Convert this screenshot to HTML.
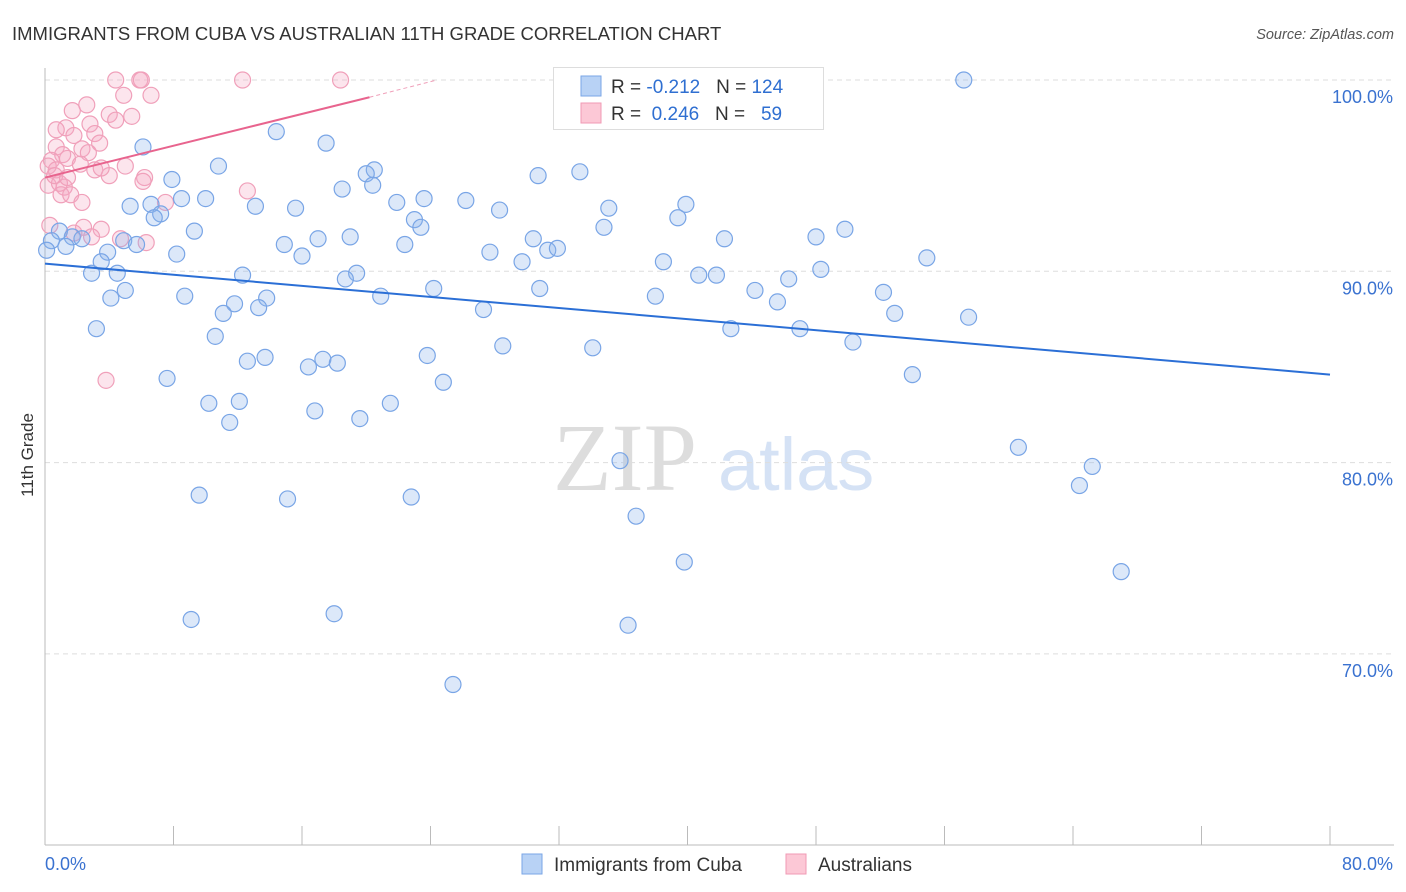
<!DOCTYPE html>
<html><head><meta charset="utf-8"><style>
body{margin:0;background:#fff;font-family:"Liberation Sans",sans-serif}
svg{display:block}
</style></head><body>
<svg id="chart" width="1406" height="892">
<text x="12" y="40" font-size="18.5" fill="#333">IMMIGRANTS FROM CUBA VS AUSTRALIAN 11TH GRADE CORRELATION CHART</text>
<text x="1394" y="39" font-size="14.5" fill="#555" font-style="italic" text-anchor="end">Source: ZipAtlas.com</text>
<g>
<text x="553" y="490" font-size="96" fill="#ddd" font-family="Liberation Serif,serif">ZIP</text>
<text x="718" y="490" font-size="74" fill="#d5e2f5">atlas</text></g>
<g id="grid"></g><g id="axes"></g><g id="marks"></g>
<text transform="translate(33,455) rotate(-90)" font-size="17" fill="#333" text-anchor="middle">11th Grade</text>
<g>
<rect x="553.5" y="67.5" width="270" height="62" fill="#fff" stroke="#ddd"/>
<rect x="581" y="76" width="20" height="20" fill="#b8d2f5" stroke="#7aa6e6"/>
<rect x="581" y="103" width="20" height="20" fill="#fcc8d6" stroke="#f09ab4"/>
<text x="611" y="93" font-size="19" fill="#333" xml:space="preserve">R = <tspan fill="#2f6fd1">-0.212</tspan>   N = <tspan fill="#2f6fd1">124</tspan></text>
<text x="611" y="120" font-size="19" fill="#333" xml:space="preserve">R =  <tspan fill="#2f6fd1">0.246</tspan>   N =   <tspan fill="#2f6fd1">59</tspan></text>
</g>
<g>
<rect x="522" y="854" width="20" height="20" fill="#b8d2f5" stroke="#7aa6e6"/>
<text x="554" y="871" font-size="19" fill="#333">Immigrants from Cuba</text>
<rect x="786" y="854" width="20" height="20" fill="#fcc8d6" stroke="#f09ab4"/>
<text x="818" y="871" font-size="19" fill="#333">Australians</text>
</g>
</svg>
<script>
const blueX=[57.2,14.4,17.5,6.1,10.8,20.5,20.0,33.3,30.7,7.9,18.5,20.4,10.0,8.5,5.3,6.6,13.1,15.6,21.9,23.6,26.2,28.3,35.1,39.9,7.2,6.8,23.0,23.4,34.8,39.4,48.0,49.8,9.3,17.0,19.0,14.9,22.4,27.7,30.4,31.3,31.9,42.3,0.9,0.4,0.1,1.7,2.3,1.3,3.9,4.9,5.7,8.2,16.0,29.7,38.5,40.7,41.8,46.3,48.3,54.9,2.9,4.5,12.3,19.4,18.7,3.5,5.0,4.1,8.7,11.8,13.8,13.3,11.1,20.9,24.2,30.8,38.0,44.2,45.6,52.2,52.9,57.5,3.2,10.6,27.3,42.7,47.0,28.5,34.1,50.3,13.7,12.6,17.3,18.2,16.4,23.8,7.6,24.8,54.0,12.1,10.2,21.5,16.8,19.6,11.5,60.6,65.2,64.4,35.8,9.6,15.1,22.8,36.8,39.8,67.0,9.1,18.0,36.3,25.4];
const blueY=[100.0,97.3,96.7,96.5,95.5,95.3,95.1,95.2,95.0,94.8,94.3,94.5,93.8,93.8,93.4,93.5,93.4,93.3,93.6,93.8,93.7,93.2,93.3,93.5,93.0,92.8,92.7,92.3,92.3,92.8,91.8,92.2,92.1,91.7,91.8,91.4,91.4,91.0,91.7,91.1,91.2,91.7,92.1,91.6,91.1,91.8,91.7,91.3,91.0,91.6,91.4,90.9,90.8,90.5,90.5,89.8,89.8,89.6,90.1,90.7,89.9,89.9,89.8,89.9,89.6,90.5,89.0,88.6,88.7,88.3,88.6,88.1,87.8,88.7,89.1,89.1,88.7,89.0,88.4,88.9,87.8,87.6,87.0,86.6,88.0,87.0,87.0,86.1,86.0,86.3,85.5,85.3,85.4,85.2,85.0,85.6,84.4,84.2,84.6,83.2,83.1,83.1,82.7,82.3,82.1,80.8,79.8,78.8,80.1,78.3,78.1,78.2,77.2,74.8,74.3,71.8,72.1,71.5,68.4];
const pinkX=[4.4,5.9,6.0,12.3,18.4,4.9,6.6,1.7,2.6,4.0,5.4,4.4,1.3,0.7,1.8,2.8,3.1,0.7,2.3,3.4,2.7,1.1,0.4,0.2,0.7,1.4,2.2,3.1,4.0,3.5,5.0,6.2,6.1,0.2,1.2,1.0,1.6,2.3,7.5,12.6,0.9,0.3,2.4,1.8,3.5,2.9,4.7,6.3,3.8,0.6,1.4];
const pinkY=[100,100,100,100,100,99.2,99.2,98.4,98.7,98.2,98.1,97.9,97.5,97.4,97.1,97.7,97.2,96.5,96.4,96.7,96.2,96.1,95.8,95.5,95.3,95.9,95.6,95.3,95.0,95.4,95.5,94.9,94.7,94.5,94.4,94.0,94.0,93.6,93.6,94.2,94.6,92.4,92.3,92.0,92.2,91.8,91.7,91.5,84.3,95.0,94.9];
const blueTrend=[[0,90.4],[80,84.6]];
const pinkTrend=[[0,94.9],[20.2,99.1]];
const pinkTrendExt=[[20.2,99.1],[24.4,100]];
const yTicks=[100,90,80,70];
const yTickLabels=["100.0%","90.0%","80.0%","70.0%"];
const xTicks=[0,8,16,24,32,40,48,56,64,72,80];
const NS="http://www.w3.org/2000/svg";
const sx=v=>45+v/80*1285;
const sy=v=>80+(100-v)*19.13;
function mk(tag,attrs,parent){const e=document.createElementNS(NS,tag);for(const k in attrs)e.setAttribute(k,attrs[k]);parent.appendChild(e);return e;}
const grid=document.getElementById('grid'),axes=document.getElementById('axes'),marks=document.getElementById('marks');
yTicks.forEach((t,i)=>{
 const l=mk('line',{x1:45,x2:1394,y1:sy(t),y2:sy(t),stroke:'#ddd','stroke-dasharray':'5,4'},grid);
 
 
 const tx=mk('text',{x:1393,y:sy(t)+23,'font-size':18,fill:'#3a72d0','text-anchor':'end'},axes);
 tx.textContent=yTickLabels[i];
 
 
});
const ya=mk('line',{x1:45,x2:45,y1:68,y2:845,stroke:'#bbb'},axes);


const xa=mk('line',{x1:45,x2:1394,y1:845,y2:845,stroke:'#bbb'},axes);


xTicks.forEach(t=>{const l=mk('line',{x1:sx(t),x2:sx(t),y1:826,y2:845,stroke:'#bbb'},axes);
 
 });
[[0,"0.0%",'start',45],[80,"80.0%",'end',1393]].forEach(a=>{const t=mk('text',{x:a[3],y:870,'font-size':18,fill:'#3a72d0','text-anchor':a[2]},axes);t.textContent=a[1];
 
 });
pinkX.forEach((x,i)=>{const c=mk('circle',{cx:sx(x),cy:sy(pinkY[i]),r:8,fill:'rgba(246,170,195,0.3)',stroke:'#f0a0ba','stroke-width':1.2},marks);
 
 });
blueX.forEach((x,i)=>{const c=mk('circle',{cx:sx(x),cy:sy(blueY[i]),r:8,fill:'rgba(140,180,235,0.3)',stroke:'#79a5e6','stroke-width':1.2},marks);
 
 });
const bt=mk('line',{x1:sx(blueTrend[0][0]),y1:sy(blueTrend[0][1]),x2:sx(blueTrend[1][0]),y2:sy(blueTrend[1][1]),stroke:'#2b6fd6','stroke-width':2},marks);


const pt=mk('line',{x1:sx(pinkTrend[0][0]),y1:sy(pinkTrend[0][1]),x2:sx(pinkTrend[1][0]),y2:sy(pinkTrend[1][1]),stroke:'#e8648e','stroke-width':2},marks);


const pe=mk('line',{x1:sx(pinkTrendExt[0][0]),y1:sy(pinkTrendExt[0][1]),x2:sx(pinkTrendExt[1][0]),y2:sy(pinkTrendExt[1][1]),stroke:'#f0a0ba','stroke-width':1,'stroke-dasharray':'4,3'},marks);


</script>
</body></html>
